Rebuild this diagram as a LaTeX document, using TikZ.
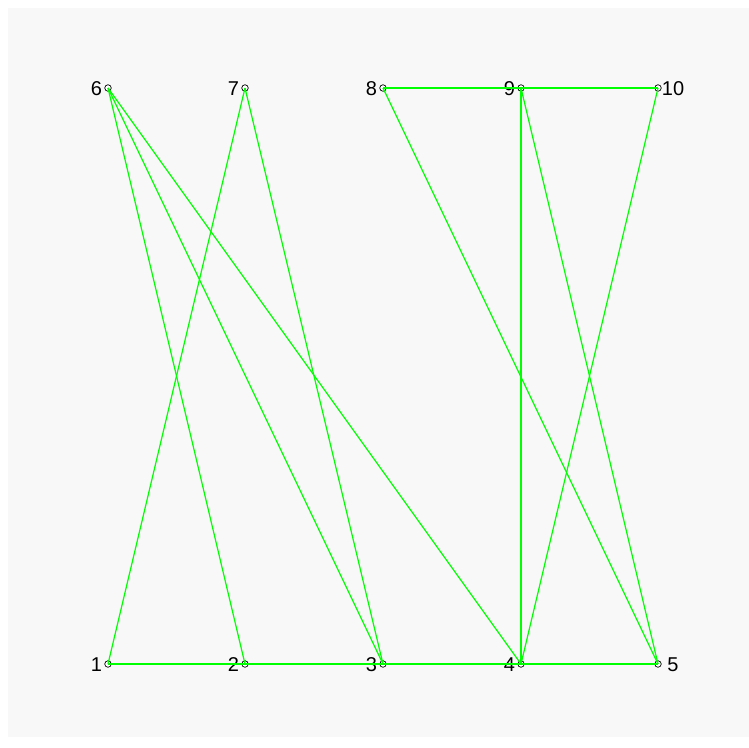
\documentclass[tikz,border=0pt]{standalone}
\usepackage{fontspec}
\setmainfont{Liberation Sans}
\usepackage{tikz}
\definecolor{bggray}{RGB}{248,248,248}
\definecolor{edgegreen}{RGB}{0,255,0}

\begin{document}
\begin{tikzpicture}[
  x=1pt, y=-1pt,
  vert/.style={circle, draw=black, fill=white, inner sep=0pt, minimum size=6.5pt, line width=0.7pt},
  lbl/.style={font=\fontsize{20}{24}\selectfont, inner sep=0pt, yshift=-1pt},
  edge/.style={draw=edgegreen, line width=1.2pt}
]
  \def\colA{108}\def\colB{245}\def\colC{383}\def\colD{521}\def\colE{658}
  \def\rowT{88}\def\rowB{664}

  % page and background
  \useasboundingbox (0,0) rectangle (749,747);
  \fill[bggray] (8,8) rectangle (749,737);

  % bottom row
  \node[vert] (v1) at (\colA,\rowB) {};
  \node[vert] (v2) at (\colB,\rowB) {};
  \node[vert] (v3) at (\colC,\rowB) {};
  \node[vert] (v4) at (\colD,\rowB) {};
  \node[vert] (v5) at (\colE,\rowB) {};

  % top row
  \node[vert] (v6) at (\colA,\rowT) {};
  \node[vert] (v7) at (\colB,\rowT) {};
  \node[vert] (v8) at (\colC,\rowT) {};
  \node[vert] (v9) at (\colD,\rowT) {};
  \node[vert] (v10) at (\colE,\rowT) {};

  % labels
  \node[lbl, xshift=-11.5pt] (l1) at (v1) {1};
  \node[lbl, xshift=-11.5pt] (l2) at (v2) {2};
  \node[lbl, xshift=-11.5pt] (l3) at (v3) {3};
  \node[lbl, xshift=-11.5pt] (l4) at (v4) {4};
  \node[lbl, xshift=15pt] (l5) at (v5) {5};
  \node[lbl, xshift=-11.5pt] (l6) at (v6) {6};
  \node[lbl, xshift=-11.5pt] (l7) at (v7) {7};
  \node[lbl, xshift=-11.5pt] (l8) at (v8) {8};
  \node[lbl, xshift=-11.5pt] (l9) at (v9) {9};
  \node[lbl, xshift=15pt] (l10) at (v10) {10};

  % edges
  \draw[edge] (v1.center) -- (v2.center) -- (v3.center) -- (v4.center) -- (v5.center);
  \draw[edge] (v8.center) -- (v9.center) -- (v10.center);
  \draw[edge] (v1.center) -- (v7.center);
  \draw[edge] (v6.center) -- (v2.center);
  \draw[edge] (v6.center) -- (v3.center);
  \draw[edge] (v6.center) -- (v4.center);
  \draw[edge] (v7.center) -- (v3.center);
  \draw[edge] (v8.center) -- (v5.center);
  \draw[edge] (v9.center) -- (v4.center);
  \draw[edge] (v9.center) -- (v5.center);
  \draw[edge] (v10.center) -- (v4.center);
\end{tikzpicture}
\end{document}
